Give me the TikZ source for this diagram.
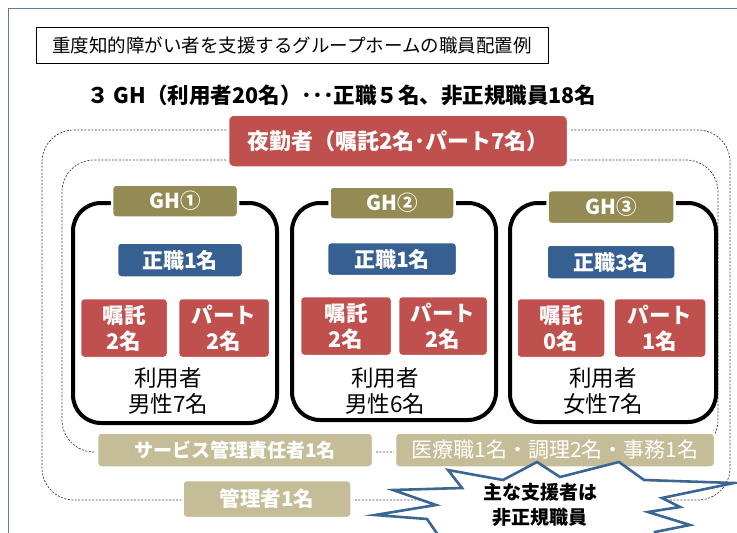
\documentclass[tikz,border=0pt]{standalone}
\usepackage{fontspec}
\setmainfont{Noto Sans CJK JP}
\usetikzlibrary{shadows}
\definecolor{cred}{HTML}{C0504D}
\definecolor{colive}{HTML}{948A54}
\definecolor{cblue}{HTML}{366092}
\definecolor{ctan}{HTML}{C4BD97}
\definecolor{cframe}{HTML}{5A7BAA}
\definecolor{cstar}{HTML}{3B6595}
\newcommand{\fs}[2][0]{\fontsize{#2}{#2}\selectfont}
\newcommand{\fsb}[2]{\fontsize{#1}{#2}\selectfont}
\tikzset{
  bx/.style={rounded corners=4pt, draw=white, line width=2.5pt, text=white, inner sep=0pt,
    drop shadow={shadow xshift=0.6pt, shadow yshift=-0.8pt, opacity=0.22, fill=black}},
  redbx/.style={bx, fill=cred, font=\fsb{21.5}{26}\bfseries, align=center},
  olivebx/.style={bx, fill=colive, font=\fs{20.5}\bfseries},
  bluebx/.style={bx, fill=cblue, font=\fs{21}\bfseries},
  tanbx/.style={bx, fill=ctan, font=\fs{19}\bfseries},
  ghbox/.style={draw=black, line width=4pt, rounded corners=28pt, inner sep=0pt},
  dashbox/.style={draw=black!75, dashed, dash pattern=on 2pt off 1.5pt, line width=0.7pt, rounded corners=32pt},
  usertxt/.style={font=\fsb{22.5}{26}, align=center, inner sep=0pt}
}
\begin{document}
\begin{tikzpicture}[x=1pt,y=-1pt]
\useasboundingbox (0,0) rectangle (737,533);
\clip (0,0) rectangle (737,533);
% frame
\draw[cframe, line width=1pt] (8,540) -- (8,8) -- (745,8);
% title
\node[draw=black, line width=0.6pt, minimum width=512pt, minimum height=36pt, inner sep=0pt, font=\fs{18.5}] (title) at (292,45) {重度知的障がい者を支援するグループホームの職員配置例};
\node[font=\fs{21.5}\bfseries, inner sep=0pt] (sub) at (342,95) {３ GH（利用者20名）･･･正職５名、非正規職員18名};
% dashed areas
\draw[dashbox] (42,130) rectangle (730,500);
\draw[dashbox] (62,160) rectangle (718,452);
% night shift
\node[redbx, minimum width=340pt, minimum height=53pt, rounded corners=6pt, font=\fs{22}\bfseries] (night) at (398,141) {夜勤者（嘱託2名･パート7名）};
% group homes
\node[ghbox, minimum width=204pt, minimum height=220pt] (gh1) at (175,313) {};
\node[ghbox, minimum width=204pt, minimum height=217pt] (gh2) at (394,311.5) {};
\node[ghbox, minimum width=206pt, minimum height=219pt] (gh3) at (613,312.5) {};
% GH labels
\node[olivebx, minimum width=126pt, minimum height=33pt] (l1) at (175,201) {GH①};
\node[olivebx, minimum width=125pt, minimum height=33pt] (l2) at (392,203) {GH②};
\node[olivebx, minimum width=127pt, minimum height=34pt] (l3) at (611,207) {GH③};
% regular staff
\node[bluebx, minimum width=126pt, minimum height=35pt] (s1) at (180,260) {正職1名};
\node[bluebx, minimum width=130pt, minimum height=34pt] (s2) at (392,259) {正職1名};
\node[bluebx, minimum width=129pt, minimum height=35pt] (s3) at (611,262) {正職3名};
% part-time
\node[redbx, minimum width=88pt, minimum height=60pt] (a1) at (124,328) {嘱託\\2名};
\node[redbx, minimum width=92pt, minimum height=60pt] (b1) at (224,328) {パート\\2名};
\node[redbx, minimum width=92pt, minimum height=60pt] (a2) at (346,326) {嘱託\\2名};
\node[redbx, minimum width=90pt, minimum height=60pt] (b2) at (443,326) {パート\\2名};
\node[redbx, minimum width=89pt, minimum height=60pt] (a3) at (561,328) {嘱託\\0名};
\node[redbx, minimum width=93pt, minimum height=60pt] (b3) at (660,328) {パート\\1名};
% users
\node[usertxt] (u1) at (168,391) {利用者\\男性7名};
\node[usertxt] (u2) at (385,391) {利用者\\男性6名};
\node[usertxt] (u3) at (603,391) {利用者\\女性7名};
% bottom staff
\node[tanbx, minimum width=276pt, minimum height=35pt] (svc) at (235,450) {サービス管理責任者1名};
\node[tanbx, minimum width=320pt, minimum height=35pt, font=\fs{21}] (med) at (555,450) {医療職1名・調理2名・事務1名};
\node[tanbx, minimum width=169pt, minimum height=38pt, font=\fs{20.5}\bfseries] (mgr) at (267,499) {管理者1名};
% star
\draw[cstar, line width=2.6pt, fill=white, line join=miter, miter limit=20]
  (393,490) -- (462,488) -- (448,470) -- (503,480) -- (537,462) -- (560,477)
  -- (619,462) -- (644,480) -- (734,483) -- (662,498) -- (680,507) -- (648,512)
  -- (690,525) -- (655,532) -- (665,570) -- (560,560) -- (500,590) -- (445,545)
  -- (427,519) -- (375,515) -- (436,505) -- cycle;
\node[font=\fsb{19}{25}\bfseries, align=center, inner sep=0pt] (star) at (540,505) {主な支援者は\\非正規職員};
\end{tikzpicture}
\end{document}
